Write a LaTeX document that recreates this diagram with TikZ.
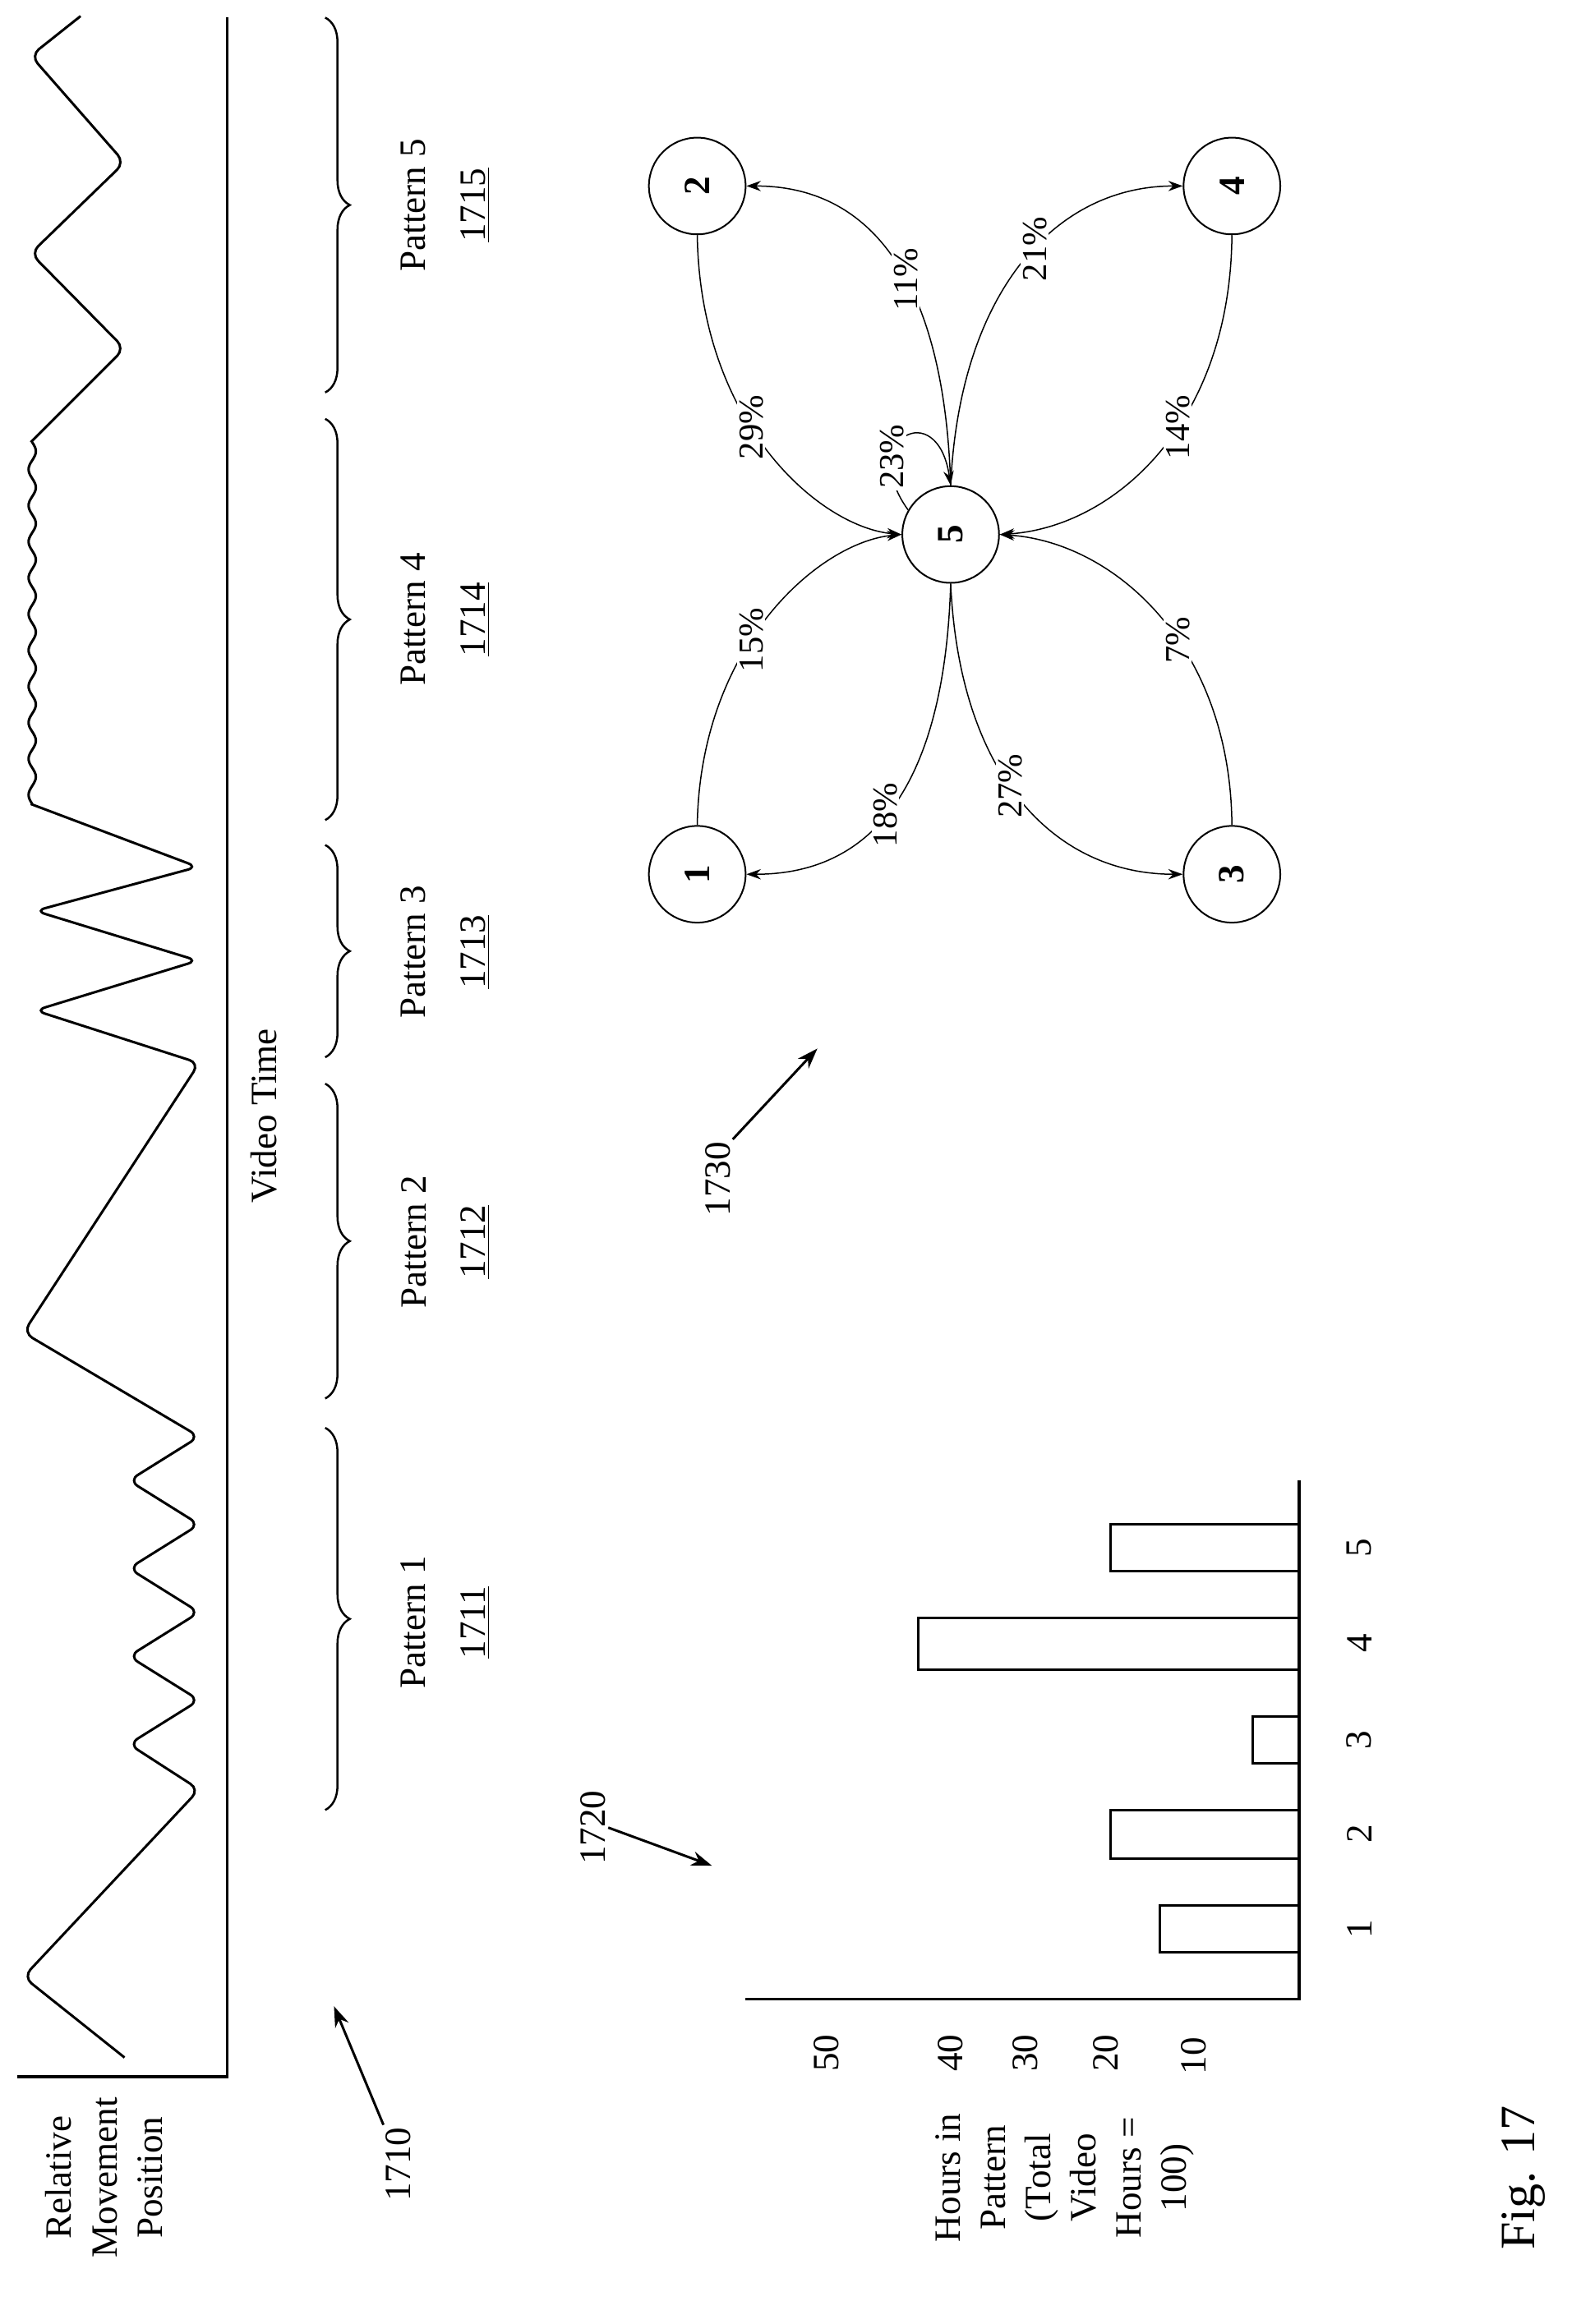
\documentclass[tikz,border=0pt]{standalone}
\usepackage{fontspec}
\setmainfont{Liberation Serif}
\usetikzlibrary{arrows.meta,decorations.pathreplacing}
\begin{document}
\begin{tikzpicture}[x=0.025cm,y=-0.025cm,
  txt/.style={rotate=90,font=\fontsize{18}{21}\selectfont,inner sep=1pt},
  multi/.style={txt,align=center,font=\fontsize{18}{22}\selectfont},
  br/.style={decorate,decoration={brace,amplitude=0.42cm},line width=1pt},
  wave/.style={line width=1.2pt,rounded corners=5pt},
  st/.style={circle,draw,line width=0.8pt,minimum size=1.65cm,inner sep=0pt,font=\fontsize{18}{20}\selectfont\bfseries},
  ed/.style={line width=0.6pt,-{Stealth[length=7pt,width=5pt]}},
  el/.style={rotate=90,fill=white,inner sep=1pt,font=\fontsize{17}{19}\selectfont},
  bar/.style={line width=1.3pt},
  callout/.style={line width=1.2pt,-{Stealth[length=10pt,width=7pt]}}]
\useasboundingbox (0,0) rectangle (1079,1587);
% axes of the movement plot
\draw[line width=1.4pt] (155,12) -- (155,1418) -- (12,1418);
\node[multi] (rmp) at (71,1487) {Relative\\Movement\\Position};
\node[txt] (vt) at (180,762) {Video Time};
% waveform
\draw[wave] (55,11) -- (21,38) -- (85,111) -- (21,173) -- (85,238) -- (21,302);
\draw[line width=1.2pt] plot[domain=0:247,samples=160] ({22+2.5*sin(\x*14.575)},{302+\x});
\draw[wave] (21,549) -- (135,592) -- (24,622) -- (135,656) -- (24,690) -- (136,726)
  -- (16,910) -- (136,981) -- (88,1011) -- (136,1041) -- (88,1071) -- (136,1101)
  -- (88,1131) -- (136,1161) -- (88,1191) -- (136,1222) -- (16,1350) -- (85,1405);
% braces and labels
\draw[br] (222,12) -- (222,268);
\draw[br] (222,286) -- (222,560);
\draw[br] (222,577) -- (222,722);
\draw[br] (222,740) -- (222,955);
\draw[br] (222,975) -- (222,1236);
\node[txt,align=center] (p5) at (304,140) {Pattern 5\\[8pt]\underline{1715}};
\node[txt,align=center] (p4) at (304,423) {Pattern 4\\[8pt]\underline{1714}};
\node[txt,align=center] (p3) at (304,650) {Pattern 3\\[8pt]\underline{1713}};
\node[txt,align=center] (p2) at (304,848) {Pattern 2\\[8pt]\underline{1712}};
\node[txt,align=center] (p1) at (304,1108) {Pattern 1\\[8pt]\underline{1711}};
% callouts
\node[txt] (t1710) at (272,1478) {1710};
\coordinate (a1710) at (228,1370);
\draw[callout] (t1710.north east) -- (a1710);
\node[txt] (t1720) at (405,1248) {1720};
\coordinate (a1720) at (486,1274);
\draw[callout] (t1720.south) -- (a1720);
\node[txt] (t1730) at (490,805) {1730};
\coordinate (a1730) at (558,716);
\draw[callout] (t1730.south east) -- (a1730);
% state graph
\node[st] (n1) at (476,597) {\rotatebox{90}{1}};
\node[st] (n2) at (476,127) {\rotatebox{90}{2}};
\node[st] (n3) at (841,597) {\rotatebox{90}{3}};
\node[st] (n4) at (841,127) {\rotatebox{90}{4}};
\node[st] (n5) at (649,365) {\rotatebox{90}{5}};
\draw[ed] (n2.south) .. controls (478,290) and (560,360) .. (n5.west) node[el,pos=0.42] {29\%};
\draw[ed] (n1.north) .. controls (478,440) and (560,370) .. (n5.west) node[el,pos=0.42] {15\%};
\draw[ed] (n5.north) .. controls (645,200) and (600,127) .. (n2.east) node[el,pos=0.45] {11\%};
\draw[ed] (n5.north) .. controls (655,200) and (720,127) .. (n4.west) node[el,pos=0.55] {21\%};
\draw[ed] (n4.south) .. controls (840,290) and (760,360) .. (n5.east) node[el,pos=0.42] {14\%};
\draw[ed] (n3.north) .. controls (840,440) and (760,370) .. (n5.east) node[el,pos=0.42] {7\%};
\draw[ed] (n5.south) .. controls (645,530) and (600,597) .. (n1.east) node[el,pos=0.55] {18\%};
\draw[ed] (n5.south) .. controls (655,530) and (720,597) .. (n3.west) node[el,pos=0.45] {27\%};
\draw[ed] (n5.150) .. controls (585,300) and (640,270) .. (n5.north) node[el,pos=0.3] {23\%};
% bar chart
\draw[line width=1.4pt] (887,1011) -- (887,1365) -- (509,1365);
\draw[bar] (887,1301) -- (792,1301) -- (792,1333) -- (887,1333);
\draw[bar] (887,1236) -- (758,1236) -- (758,1269) -- (887,1269);
\draw[bar] (887,1172) -- (855,1172) -- (855,1204) -- (887,1204);
\draw[bar] (887,1105) -- (627,1105) -- (627,1140) -- (887,1140);
\draw[bar] (887,1041) -- (758,1041) -- (758,1073) -- (887,1073);
\node[txt] (x1) at (928,1317) {1};
\node[txt] (x2) at (928,1252) {2};
\node[txt] (x3) at (928,1188) {3};
\node[txt] (x4) at (928,1122) {4};
\node[txt] (x5) at (928,1057) {5};
\node[txt] (y50) at (564,1402) {50};
\node[txt] (y40) at (649,1402) {40};
\node[txt] (y30) at (700,1402) {30};
\node[txt] (y20) at (755,1402) {20};
\node[txt] (y10) at (815,1404) {10};
\node[multi,font=\fontsize{18}{22}\selectfont] (ylab) at (727,1487) {Hours in\\Pattern\\(Total\\Video\\Hours =\\100)};
\node[txt,font=\fontsize{24}{28}\selectfont] (fig) at (1040,1487) {Fig. 17};
\end{tikzpicture}
\end{document}
